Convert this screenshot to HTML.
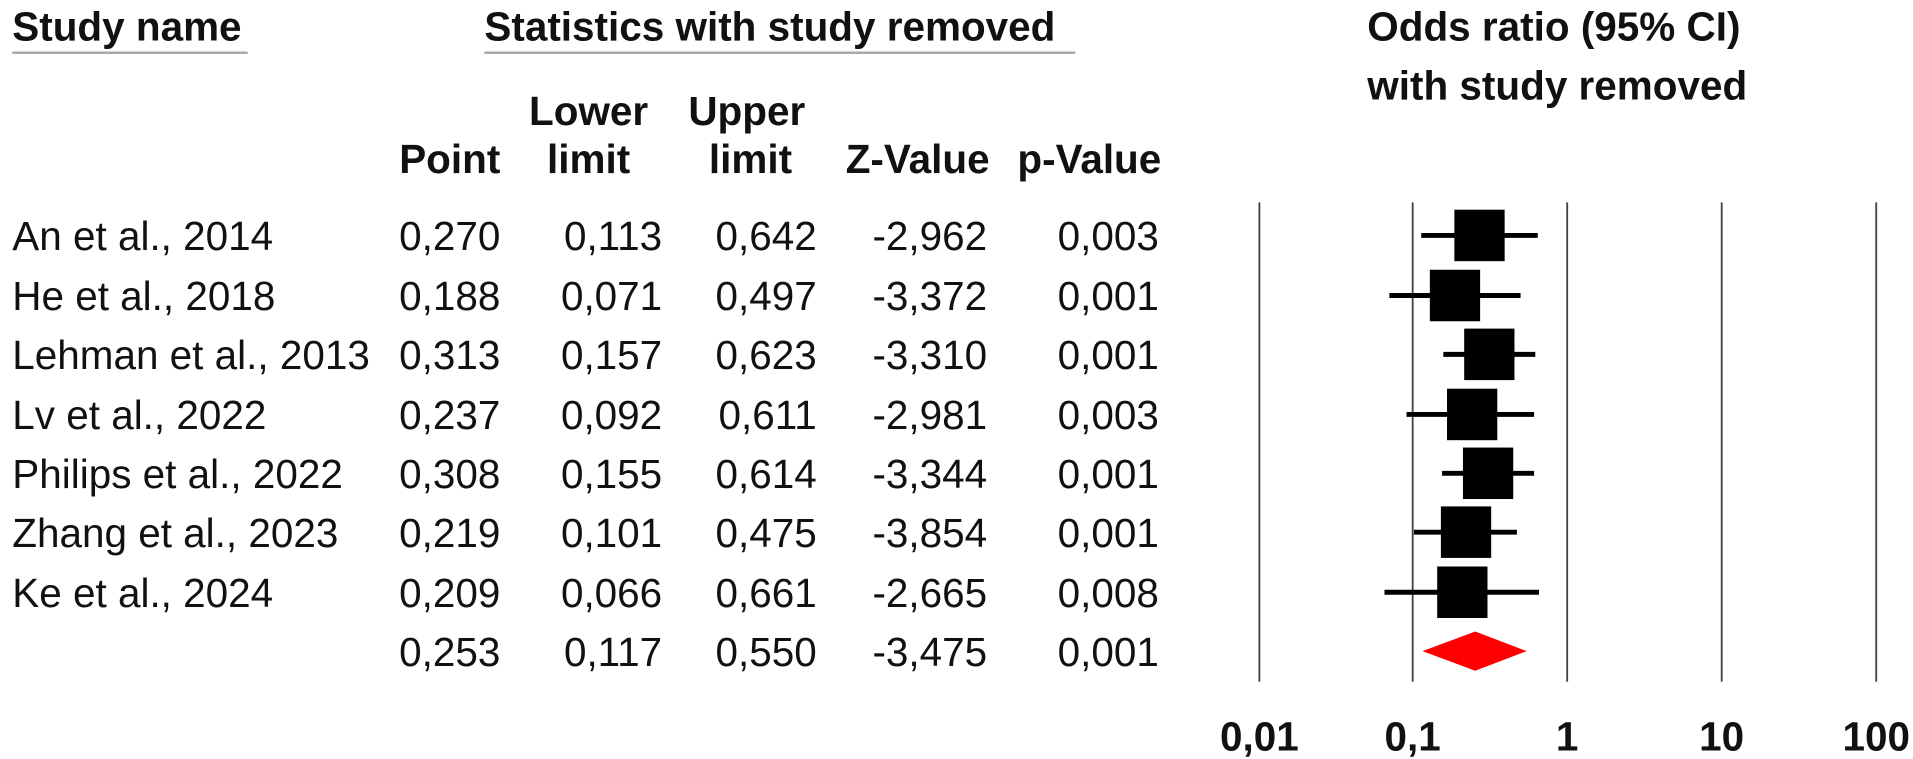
<!DOCTYPE html>
<html><head><meta charset="utf-8"><style>html,body{margin:0;padding:0;background:#fff}svg{display:block}</style></head>
<body>
<svg width="1913" height="759" viewBox="0 0 1560 619" preserveAspectRatio="none" xmlns="http://www.w3.org/2000/svg" font-family="Liberation Sans, Arial, sans-serif">
<g font-weight="bold" font-size="33" fill="#111">
<text x="10" y="33">Study name</text>
<text x="395" y="33">Statistics with study removed</text>
<text x="1115" y="33">Odds ratio (95% CI)</text>
<text x="1115" y="81">with study removed</text>
<text x="480" y="102" text-anchor="middle">Lower</text>
<text x="609" y="102" text-anchor="middle">Upper</text>
<text x="408" y="141" text-anchor="end">Point</text>
<text x="480" y="141" text-anchor="middle">limit</text>
<text x="612" y="141" text-anchor="middle">limit</text>
<text x="807" y="141" text-anchor="end">Z-Value</text>
<text x="947" y="141" text-anchor="end">p-Value</text>
</g>
<line x1="10" y1="43" x2="202" y2="43" stroke="#aaa" stroke-width="2"/>
<line x1="395" y1="43" x2="877" y2="43" stroke="#aaa" stroke-width="2"/>
<g stroke="#444" stroke-width="1.5">
<line x1="1027" y1="165" x2="1027" y2="556"/>
<line x1="1152" y1="165" x2="1152" y2="556"/>
<line x1="1278" y1="165" x2="1278" y2="556"/>
<line x1="1404" y1="165" x2="1404" y2="556"/>
<line x1="1530" y1="165" x2="1530" y2="556"/>
</g>
<g font-size="33" fill="#111">
<g>
<text x="10" y="204">An et al., 2014</text><text x="408" y="204" text-anchor="end">0,270</text><text x="540" y="204" text-anchor="end">0,113</text><text x="666" y="204" text-anchor="end">0,642</text><text x="805" y="204" text-anchor="end">-2,962</text><text x="945" y="204" text-anchor="end">0,003</text>
</g>
<g>
<text x="10" y="253">He et al., 2018</text><text x="408" y="253" text-anchor="end">0,188</text><text x="540" y="253" text-anchor="end">0,071</text><text x="666" y="253" text-anchor="end">0,497</text><text x="805" y="253" text-anchor="end">-3,372</text><text x="945" y="253" text-anchor="end">0,001</text>
</g>
<g>
<text x="10" y="301">Lehman et al., 2013</text><text x="408" y="301" text-anchor="end">0,313</text><text x="540" y="301" text-anchor="end">0,157</text><text x="666" y="301" text-anchor="end">0,623</text><text x="805" y="301" text-anchor="end">-3,310</text><text x="945" y="301" text-anchor="end">0,001</text>
</g>
<g>
<text x="10" y="350">Lv et al., 2022</text><text x="408" y="350" text-anchor="end">0,237</text><text x="540" y="350" text-anchor="end">0,092</text><text x="666" y="350" text-anchor="end">0,611</text><text x="805" y="350" text-anchor="end">-2,981</text><text x="945" y="350" text-anchor="end">0,003</text>
</g>
<g>
<text x="10" y="398">Philips et al., 2022</text><text x="408" y="398" text-anchor="end">0,308</text><text x="540" y="398" text-anchor="end">0,155</text><text x="666" y="398" text-anchor="end">0,614</text><text x="805" y="398" text-anchor="end">-3,344</text><text x="945" y="398" text-anchor="end">0,001</text>
</g>
<g>
<text x="10" y="446">Zhang et al., 2023</text><text x="408" y="446" text-anchor="end">0,219</text><text x="540" y="446" text-anchor="end">0,101</text><text x="666" y="446" text-anchor="end">0,475</text><text x="805" y="446" text-anchor="end">-3,854</text><text x="945" y="446" text-anchor="end">0,001</text>
</g>
<g>
<text x="10" y="495">Ke et al., 2024</text><text x="408" y="495" text-anchor="end">0,209</text><text x="540" y="495" text-anchor="end">0,066</text><text x="666" y="495" text-anchor="end">0,661</text><text x="805" y="495" text-anchor="end">-2,665</text><text x="945" y="495" text-anchor="end">0,008</text>
</g>
<g>
<text x="408" y="543" text-anchor="end">0,253</text><text x="540" y="543" text-anchor="end">0,117</text><text x="666" y="543" text-anchor="end">0,550</text><text x="805" y="543" text-anchor="end">-3,475</text><text x="945" y="543" text-anchor="end">0,001</text>
</g>
</g>
<g stroke="#000" stroke-width="4">
<line x1="1159" y1="192" x2="1254" y2="192"/>
<line x1="1133" y1="241" x2="1240" y2="241"/>
<line x1="1177" y1="289" x2="1252" y2="289"/>
<line x1="1147" y1="338" x2="1251" y2="338"/>
<line x1="1176" y1="386" x2="1251" y2="386"/>
<line x1="1153" y1="434" x2="1237" y2="434"/>
<line x1="1129" y1="483" x2="1255" y2="483"/>
</g>
<g fill="#000">
<rect x="1186" y="171" width="41" height="42"/>
<rect x="1166" y="220" width="41" height="42"/>
<rect x="1194" y="268" width="41" height="42"/>
<rect x="1180" y="317" width="41" height="42"/>
<rect x="1193" y="365" width="41" height="42"/>
<rect x="1175" y="413" width="41" height="42"/>
<rect x="1172" y="462" width="41" height="42"/>
</g>
<polygon points="1160,531 1203,515 1245,531 1203,547" fill="#ff0000"/>
<g font-weight="bold" font-size="33" fill="#111" text-anchor="middle">
<text x="1027" y="612">0,01</text>
<text x="1152" y="612">0,1</text>
<text x="1278" y="612">1</text>
<text x="1404" y="612">10</text>
<text x="1530" y="612">100</text>
</g>
</svg>
</body></html>
